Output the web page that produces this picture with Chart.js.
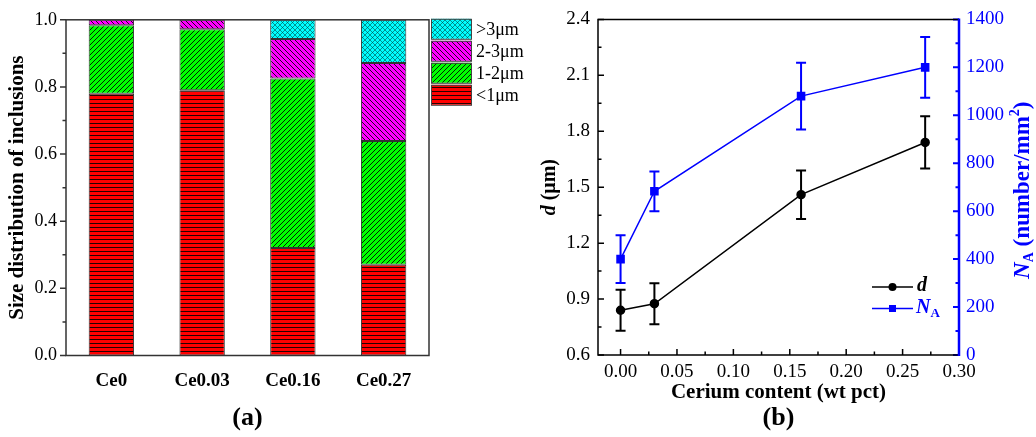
<!DOCTYPE html>
<html><head><meta charset="utf-8">
<script src="https://cdn.jsdelivr.net/npm/chart.js@4.4.1/dist/chart.umd.min.js"></script>
<style>
html,body{margin:0;padding:0;background:#fff;overflow:hidden}
#wrap{position:relative;width:1036px;height:437px;background:#fff}
#ca{position:absolute;left:0;top:0}
#cb{position:absolute;left:520px;top:0}
</style></head><body>
<div id="wrap"><canvas id="ca" width="560" height="437"></canvas><canvas id="cb" width="516" height="437"></canvas></div>
<script>
// ---------- Panel (a) data ----------
const categories = ['Ce0', 'Ce0.03', 'Ce0.16', 'Ce0.27'];
const below1um = [0.78, 0.79, 0.32, 0.27];
const from1to2um = [0.204, 0.182, 0.505, 0.369];
const from2to3um = [0.016, 0.028, 0.118, 0.232];
const above3um = [0, 0, 0.057, 0.129];
const sizeLabels = ['<1μm', '1-2μm', '2-3μm', '>3μm'];
const fractionTicks = [0, 0.2, 0.4, 0.6, 0.8, 1.0];

// ---------- Panel (b) data ----------
const ceriumContent = [0, 0.03, 0.16, 0.27];
const dMean = [0.84, 0.875, 1.46, 1.74];
const dErr = [0.11, 0.11, 0.13, 0.14];
const naMean = [400, 683, 1080, 1200];
const naErr = [100, 83, 139, 127];
const ceriumTicks = [0, 0.05, 0.10, 0.15, 0.20, 0.25, 0.30];
const dTicks = [0.6, 0.9, 1.2, 1.5, 1.8, 2.1, 2.4];
const naTicks = [0, 200, 400, 600, 800, 1000, 1200, 1400];

const SERIF = "'Liberation Serif','Times New Roman',serif";
Chart.defaults.font.family = SERIF;
Chart.defaults.color = '#000';

function makePattern(bg, size, draw, stroke, lw) {
  const c = document.createElement('canvas');
  c.width = size; c.height = size;
  const x = c.getContext('2d');
  x.fillStyle = bg; x.fillRect(0, 0, size, size);
  x.strokeStyle = stroke || 'rgba(0,0,0,0.85)'; x.lineWidth = lw || 1;
  x.beginPath(); draw(x, size); x.stroke();
  return x.createPattern(c, 'repeat');
}
const patRed = makePattern('#ff0000', 4, (x, s) => { x.moveTo(0, 3.5); x.lineTo(s, 3.5); });
const patGreen = makePattern('#00ff00', 5, (x, s) => { x.moveTo(0, s); x.lineTo(s, 0); x.moveTo(-1, 1); x.lineTo(1, -1); x.moveTo(s - 1, s + 1); x.lineTo(s + 1, s - 1); });
const patPink = makePattern('#ff00ff', 5, (x, s) => { x.moveTo(0, 0); x.lineTo(s, s); x.moveTo(-1, s - 1); x.lineTo(1, s + 1); x.moveTo(s - 1, -1); x.lineTo(s + 1, 1); });
const patCyan = makePattern('#00ffff', 5, (x, s) => { x.moveTo(0, 0); x.lineTo(s, s); x.moveTo(0, s); x.lineTo(s, 0); }, 'rgba(0,60,60,0.7)', 0.8);

function mids(arr) { const out = []; for (let i = 0; i < arr.length - 1; i++) out.push((arr[i] + arr[i + 1]) / 2); return out; }

function tickMarks(ctx, scale, values, len, dir, color, lw) {
  const ca = scale.chart.chartArea;
  ctx.save(); ctx.strokeStyle = color; ctx.lineWidth = lw; ctx.beginPath();
  values.forEach(v => {
    const p = scale.getPixelForValue(v);
    if (scale.isHorizontal()) { ctx.moveTo(p, ca.bottom); ctx.lineTo(p, ca.bottom + dir * len); }
    else { const x0 = scale.position === 'left' ? ca.left : ca.right; ctx.moveTo(x0, p); ctx.lineTo(x0 + dir * len, p); }
  });
  ctx.stroke(); ctx.restore();
}

function drawRich(ctx, pieces, cx, cy, rot, color) {
  ctx.save();
  ctx.translate(cx, cy); ctx.rotate(rot);
  ctx.fillStyle = color; ctx.textBaseline = 'middle'; ctx.textAlign = 'left';
  let w = 0;
  pieces.forEach(p => { ctx.font = p.font; p.w = ctx.measureText(p.t).width; w += p.w; });
  let x = -w / 2;
  pieces.forEach(p => { ctx.font = p.font; ctx.fillText(p.t, x, p.dy || 0); x += p.w; });
  ctx.restore();
}

// ---------- Chart (a) ----------
const decorA = {
  id: 'decorA',
  afterDraw(chart) {
    const ctx = chart.ctx, ca = chart.chartArea, ys = chart.scales.y;
    tickMarks(ctx, ys, fractionTicks, 6, -1, '#333', 1.5);
    tickMarks(ctx, ys, mids(fractionTicks), 3.5, -1, '#333', 1.5);
    ctx.save(); ctx.strokeStyle = '#333'; ctx.lineWidth = 1.5;
    ctx.strokeRect(ca.left, ca.top, ca.right - ca.left, ca.bottom - ca.top);
    ctx.restore();
    // legend (top to bottom: >3, 2-3, 1-2, <1)
    const order = [3, 2, 1, 0];
    ctx.save();
    order.forEach((di, row) => {
      const ds = chart.data.datasets[di];
      const x = ca.right + 2, y = ca.top - 1 + row * 22;
      ctx.fillStyle = ds.backgroundColor; ctx.fillRect(x, y, 40, 20);
      ctx.strokeStyle = '#444'; ctx.lineWidth = 1; ctx.strokeRect(x + 0.5, y + 0.5, 40, 20);
      ctx.fillStyle = '#000'; ctx.font = '18px ' + SERIF; ctx.textBaseline = 'middle'; ctx.textAlign = 'left';
      ctx.fillText(ds.label, x + 45, y + 11);
    });
    ctx.restore();
  }
};

new Chart(document.getElementById('ca'), {
  type: 'bar',
  data: {
    labels: categories,
    datasets: [
      { label: sizeLabels[0], data: below1um, backgroundColor: patRed },
      { label: sizeLabels[1], data: from1to2um, backgroundColor: patGreen },
      { label: sizeLabels[2], data: from2to3um, backgroundColor: patPink },
      { label: sizeLabels[3], data: above3um, backgroundColor: patCyan }
    ].map(d => Object.assign(d, { borderColor: '#333', borderWidth: 1, borderSkipped: false, categoryPercentage: 0.5, barPercentage: 1.0 }))
  },
  options: {
    responsive: false, animation: false,
    layout: { padding: { top: 17, right: 131, left: 0, bottom: 0 } },
    plugins: {
      legend: { display: false }, tooltip: { enabled: false },
      title: { display: true, fullSize: false, position: 'bottom', text: '(a)', color: '#000', font: { family: SERIF, size: 26, weight: 'bold', lineHeight: 1 }, padding: { top: 0, bottom: 6 } }
    },
    scales: {
      x: {
        stacked: true,
        grid: { display: false, drawTicks: false }, border: { display: false },
        ticks: { font: { size: 19, weight: 'bold' }, color: '#000', padding: 14, maxRotation: 0, autoSkip: false },
        afterFit: s => { s.height = 49.5; }
      },
      y: {
        stacked: true, min: 0, max: 1,
        afterBuildTicks: s => { s.ticks = fractionTicks.map(v => ({ value: v })); },
        grid: { display: false, drawTicks: false }, border: { display: false },
        ticks: { font: { size: 18 }, color: '#000', padding: 9, callback: v => Number(v).toFixed(1) },
        title: { display: true, text: 'Size distribution of inclusions', color: '#000', font: { size: 21, weight: 'bold', lineHeight: 1.2 }, padding: { top: 5 } },
        afterFit: s => { s.width = 66; }
      }
    }
  },
  plugins: [decorA]
});

// ---------- Chart (b) ----------
const decorB = {
  id: 'decorB',
  beforeDatasetsDraw(chart) {
    const ctx = chart.ctx, xs = chart.scales.x;
    const sets = [[chart.scales.y, dMean, dErr, '#000'], [chart.scales.y1, naMean, naErr, '#0000ff']];
    ctx.save(); ctx.lineWidth = 2;
    sets.forEach(([ys, m, e, col]) => {
      ctx.strokeStyle = col; ctx.beginPath();
      ceriumContent.forEach((cx, i) => {
        const px = xs.getPixelForValue(cx), t = ys.getPixelForValue(m[i] + e[i]), b = ys.getPixelForValue(m[i] - e[i]);
        ctx.moveTo(px, t); ctx.lineTo(px, b);
        ctx.moveTo(px - 5, t); ctx.lineTo(px + 5, t);
        ctx.moveTo(px - 5, b); ctx.lineTo(px + 5, b);
      });
      ctx.stroke();
    });
    ctx.restore();
  },
  afterDraw(chart) {
    const ctx = chart.ctx, ca = chart.chartArea;
    const xs = chart.scales.x, ys = chart.scales.y, y1 = chart.scales.y1;
    tickMarks(ctx, xs, ceriumTicks, 6, -1, '#000', 1.5);
    tickMarks(ctx, xs, mids(ceriumTicks), 3.5, -1, '#000', 1.5);
    tickMarks(ctx, ys, dTicks, 6, 1, '#000', 1.5);
    tickMarks(ctx, ys, mids(dTicks), 3.5, 1, '#000', 1.5);
    tickMarks(ctx, y1, naTicks, 6, -1, '#0000ff', 2);
    tickMarks(ctx, y1, mids(naTicks), 3.5, -1, '#0000ff', 2);
    ctx.save();
    ctx.strokeStyle = '#000'; ctx.lineWidth = 1.5; ctx.beginPath();
    ctx.moveTo(ca.right, ca.top); ctx.lineTo(ca.left, ca.top); ctx.lineTo(ca.left, ca.bottom); ctx.lineTo(ca.right, ca.bottom);
    ctx.stroke();
    ctx.strokeStyle = '#0000ff'; ctx.lineWidth = 2.5; ctx.beginPath();
    ctx.moveTo(ca.right, ca.top - 1); ctx.lineTo(ca.right, ca.bottom + 1); ctx.stroke();
    ctx.restore();
    const cy = (ca.top + ca.bottom) / 2;
    drawRich(ctx, [
      { t: 'd', font: 'italic bold 20px ' + SERIF },
      { t: ' (μm)', font: 'bold 20px ' + SERIF }
    ], 30, cy, -Math.PI / 2, '#000');
    drawRich(ctx, [
      { t: 'N', font: 'italic bold 23px ' + SERIF },
      { t: 'A', font: 'bold 14px ' + SERIF, dy: 6 },
      { t: ' (number/mm', font: 'bold 23px ' + SERIF },
      { t: '2', font: 'bold 14px ' + SERIF, dy: -8 },
      { t: ')', font: 'bold 23px ' + SERIF }
    ], 503, cy + 3, -Math.PI / 2, '#0000ff');
    const lx0 = 352, lx1 = 393, mx = (lx0 + lx1) / 2;
    ctx.save();
    ctx.lineWidth = 1.5;
    ctx.strokeStyle = '#000'; ctx.fillStyle = '#000';
    ctx.beginPath(); ctx.moveTo(lx0, 287); ctx.lineTo(lx1, 287); ctx.stroke();
    ctx.beginPath(); ctx.arc(mx, 287, 4, 0, Math.PI * 2); ctx.fill();
    ctx.strokeStyle = '#0000ff'; ctx.fillStyle = '#0000ff';
    ctx.beginPath(); ctx.moveTo(lx0, 308.5); ctx.lineTo(lx1, 308.5); ctx.stroke();
    ctx.fillRect(mx - 3.5, 308.5 - 3.5, 7, 7);
    ctx.restore();
    drawRich(ctx, [{ t: 'd', font: 'italic bold 20px ' + SERIF }], 402, 286, 0, '#000');
    drawRich(ctx, [
      { t: 'N', font: 'italic bold 20px ' + SERIF },
      { t: 'A', font: 'bold 13px ' + SERIF, dy: 6 }
    ], 408, 308, 0, '#0000ff');
  }
};

new Chart(document.getElementById('cb'), {
  type: 'line',
  data: {
    datasets: [
      { label: 'd', data: ceriumContent.map((x, i) => ({ x, y: dMean[i] })), yAxisID: 'y',
        borderColor: '#000', backgroundColor: '#000', borderWidth: 1.5, pointStyle: 'circle', pointRadius: 4, tension: 0 },
      { label: 'NA', data: ceriumContent.map((x, i) => ({ x, y: naMean[i] })), yAxisID: 'y1',
        borderColor: '#0000ff', backgroundColor: '#0000ff', borderWidth: 1.5, pointStyle: 'rect', pointRadius: 5, tension: 0 }
    ]
  },
  options: {
    responsive: false, animation: false,
    layout: { padding: { top: 17, left: 0, right: 0, bottom: 0 } },
    plugins: {
      legend: { display: false }, tooltip: { enabled: false },
      title: { display: true, fullSize: false, position: 'bottom', text: '(b)', color: '#000', font: { family: SERIF, size: 26, weight: 'bold', lineHeight: 1 }, padding: { top: 0, bottom: 6 } }
    },
    scales: {
      x: {
        type: 'linear', min: -0.02, max: 0.30,
        afterBuildTicks: s => { s.ticks = ceriumTicks.map(v => ({ value: v })); },
        grid: { display: false, drawTicks: false }, border: { display: false },
        ticks: { font: { size: 19 }, color: '#000', padding: 6, maxRotation: 0, autoSkip: false, callback: v => Number(v).toFixed(2) },
        title: { display: true, text: 'Cerium content (wt pct)', color: '#000', font: { size: 21, weight: 'bold', lineHeight: 1 }, padding: { top: 0, bottom: 2 } },
        afterFit: s => { s.height = 50; }
      },
      y: {
        position: 'left', min: 0.6, max: 2.4,
        afterBuildTicks: s => { s.ticks = dTicks.map(v => ({ value: v })); },
        grid: { display: false, drawTicks: false }, border: { display: false },
        ticks: { font: { size: 19 }, color: '#000', padding: 8, callback: v => Number(v).toFixed(1) },
        afterFit: s => { s.width = 78; }
      },
      y1: {
        position: 'right', min: 0, max: 1400,
        afterBuildTicks: s => { s.ticks = naTicks.map(v => ({ value: v })); },
        grid: { display: false, drawTicks: false }, border: { display: false },
        ticks: { font: { size: 19 }, color: '#0000ff', padding: 7, callback: v => String(v) },
        afterFit: s => { s.width = 77; }
      }
    }
  },
  plugins: [decorB]
});
</script></body></html>
